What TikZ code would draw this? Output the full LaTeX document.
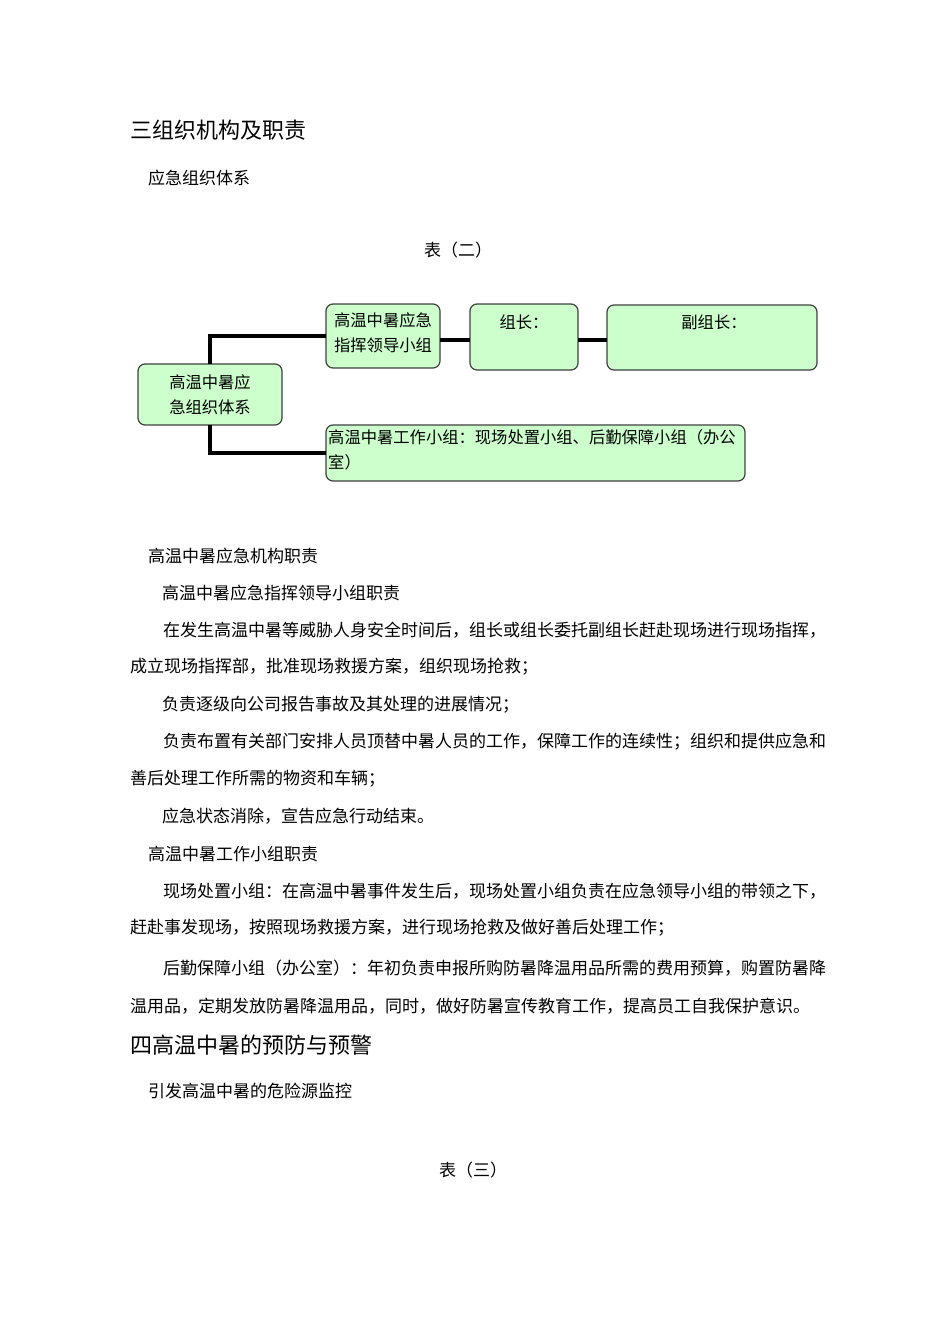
\documentclass[tikz,border=0pt]{standalone}
\usepackage{fontspec}
\setmainfont{Noto Sans CJK SC}
\begin{document}
\begin{tikzpicture}[x=1pt,y=-1pt,
  bx/.style={draw=black!75,line width=1.2pt,fill=green!20,rounded corners=7pt},
  conn/.style={line width=3.5pt},
  bt/.style={anchor=west,inner sep=0,font=\fontsize{17}{18}\selectfont},
  hd/.style={anchor=west,inner sep=0,font=\fontsize{22}{24}\selectfont},
  lbl/.style={inner sep=0,align=center,font=\fontsize{16.3}{25}\selectfont}]
\useasboundingbox[fill=white] (0,0) rectangle (950,1344);
\node[hd] (h1) at (130,130) {三组织机构及职责};
\node[bt] (t1) at (148,178) {应急组织体系};
\node[bt,anchor=center] (t2) at (458,250) {表（二）};
% boxes
\draw[bx] (138,364) rectangle (282,425);
\node[lbl] (A) at (210,394.5) {高温中暑应\\急组织体系};
\coordinate (Atop) at (210,364); \coordinate (Abot) at (210,425);
\draw[bx] (326,304) rectangle (440,368);
\node[lbl] (B) at (383,333) {高温中暑应急\\指挥领导小组};
\coordinate (Bl) at (326,336); \coordinate (Br) at (440,340);
\draw[bx] (470,304) rectangle (578,370);
\node[lbl] (C) at (524,322) {组长：};
\coordinate (Cl) at (470,340); \coordinate (Cr) at (578,340);
\draw[bx] (607,305) rectangle (817,370);
\node[lbl] (D) at (714,322) {副组长：};
\coordinate (Dl) at (607,340);
\draw[bx] (326,425) rectangle (745,481);
\node[lbl,align=left,anchor=north west] (E) at (328,429) {高温中暑工作小组：现场处置小组、后勤保障小组（办公\\室）};
\coordinate (El) at (326,453);
\draw[conn] (Atop) |- (Bl);
\draw[conn] (Abot) |- (El);
\draw[conn] (Br) -- (Cl);
\draw[conn] (Cr) -- (Dl);
% text
\node[bt] (p1) at (148,556) {高温中暑应急机构职责};
\node[bt] (p2) at (162,593) {高温中暑应急指挥领导小组职责};
\node[bt] (p3) at (163,630) {在发生高温中暑等威胁人身安全时间后，组长或组长委托副组长赶赴现场进行现场指挥，};
\node[bt] (p4) at (130,667) {成立现场指挥部，批准现场救援方案，组织现场抢救；};
\node[bt] (p5) at (162,705) {负责逐级向公司报告事故及其处理的进展情况；};
\node[bt] (p6) at (163,742) {负责布置有关部门安排人员顶替中暑人员的工作，保障工作的连续性；组织和提供应急和};
\node[bt] (p7) at (130,779) {善后处理工作所需的物资和车辆；};
\node[bt] (p8) at (162,816) {应急状态消除，宣告应急行动结束。};
\node[bt] (p9) at (148,854) {高温中暑工作小组职责};
\node[bt] (p10) at (163,891) {现场处置小组：在高温中暑事件发生后，现场处置小组负责在应急领导小组的带领之下，};
\node[bt] (p11) at (130,928) {赶赴事发现场，按照现场救援方案，进行现场抢救及做好善后处理工作；};
\node[bt] (p12) at (163,968) {后勤保障小组（办公室）：年初负责申报所购防暑降温用品所需的费用预算，购置防暑降};
\node[bt] (p13) at (130,1006) {温用品，定期发放防暑降温用品，同时，做好防暑宣传教育工作，提高员工自我保护意识。};
\node[hd] (h2) at (130,1045) {四高温中暑的预防与预警};
\node[bt] (p14) at (148,1091) {引发高温中暑的危险源监控};
\node[bt,anchor=center] (p15) at (473,1170) {表（三）};
\end{tikzpicture}
\end{document}
